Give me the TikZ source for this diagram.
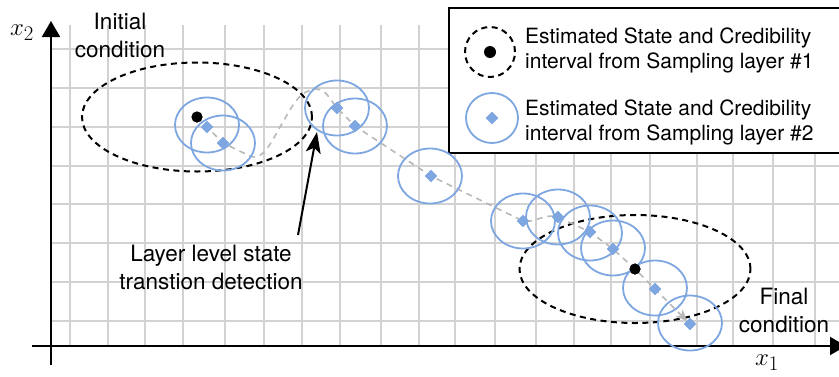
\documentclass[tikz,border=0pt]{standalone}
\usepackage{fontspec}
\setmainfont{TeX Gyre Heros}
\usetikzlibrary{shapes.geometric,arrows.meta}
\definecolor{ringblue}{HTML}{7EA6E0}
\definecolor{gridgray}{HTML}{D2D2D2}
\definecolor{pathgray}{HTML}{B8B8B8}

\begin{document}
\begin{tikzpicture}[x=1pt,y=-1pt,
  gridline/.style={gridgray,line width=1.6pt},
  axisline/.style={line width=2pt,-{Triangle[length=16pt,width=18pt]}},
  region/.style={draw=black,dash pattern=on 6pt off 4.5pt,line width=2pt},
  ring/.style={draw=ringblue,line width=1.8pt},
  statept/.style={diamond,fill=ringblue,inner sep=0pt,minimum size=12pt},
  truept/.style={circle,fill=black,inner sep=0pt,minimum size=11pt},
  trajectory/.style={pathgray,line width=1.6pt,dash pattern=on 6pt off 5pt,
    -{Stealth[length=11pt,width=10pt,inset=3pt,fill=pathgray]}},
  pointer/.style={line width=2pt,-{Stealth[length=21pt,width=15pt,inset=5pt]}},
  notetext/.style={font=\fontsize{22.5}{28}\selectfont,align=center,inner sep=0pt},
  legendtext/.style={font=\fontsize{21}{24.5}\selectfont,align=left,inner sep=0pt},
  legendbox/.style={draw=black,fill=white,line width=2pt,inner sep=0pt},
  mathlabel/.style={font=\fontsize{24.88}{28}\selectfont,inner sep=0pt}
]
\useasboundingbox (0,0) rectangle (839,376);

% background grid
\foreach \gx in {70,108,145,183,225,264,302,340,381,419,455,495,536,574,611,650,697,733,773,815}
  \draw[gridline] (\gx,25) -- (\gx,346);
\foreach \gy in {49,88,127,166,204,243,282,321}
  \draw[gridline] (51,\gy) -- (845,\gy);

% axes
\coordinate (ytop) at (51,21);
\coordinate (xend) at (846,346);
\coordinate (ybottom) at (51,365);
\coordinate (xstart) at (32,346);
\draw[axisline] (ybottom) -- (ytop);
\draw[axisline] (xstart) -- (xend);
\node[mathlabel] (xtwo) at (22,33) {$x_2$};
\node[mathlabel] (xone) at (767,363) {$x_1$};

% legend
\node[legendbox,anchor=north west,minimum width=396pt,minimum height=145pt] (legend) at (448,7) {};
\draw[region] (490,52) circle [radius=25pt];
\node[truept,minimum size=12pt] (legdot) at (490,52) {};
\node[legendtext,anchor=north west] (legone) at (525,28)
  {Estimated State and Credibility\\interval from Sampling layer \#1};
\draw[ring] (492,118) circle [x radius=26pt,y radius=25pt];
\node[statept,minimum size=13pt] (legdiamond) at (492,118) {};
\node[legendtext,anchor=north west] (legtwo) at (525,100)
  {Estimated State and Credibility\\interval from Sampling layer \#2};

% sampling layer #1 estimates
\node[truept] (p1) at (197,117) {};
\node[truept] (p2) at (635,269) {};

% sampling layer #2 estimates
\node[statept] (s1) at (207,127) {};
\node[statept] (s2) at (223,143) {};
\node[statept] (s3) at (337,108) {};
\node[statept] (s4) at (355,126) {};
\node[statept] (s5) at (431,176) {};
\node[statept] (s6) at (523,221) {};
\node[statept] (s7) at (558,217) {};
\node[statept] (s8) at (590,232) {};
\node[statept] (s9) at (613,249) {};
\node[statept] (s10) at (655,289) {};
\node[statept] (s11) at (690,324) {};

% credibility regions of layer #1
\draw[region] (p1.center) ellipse [x radius=115pt,y radius=54.5pt];
\draw[region] (p2.center) ellipse [x radius=115.5pt,y radius=54pt];

% estimated trajectory
\draw[trajectory] (p1.center) -- (s1.center) -- (s2.center) -- (250,156)
  .. controls (264,162) and (273,138) .. (283,122)
  .. controls (292,106) and (300,90) .. (316,89)
  .. controls (326,89) and (331,101) .. (s3.center)
  -- (s4.center) -- (s5.center) -- (s6.center)
  .. controls (535,223) and (545,213) .. (s7.center)
  -- (s8.center) -- (s9.center) -- (p2.center) -- (s10.center) -- (s11);

% credibility regions of layer #2
\foreach \cx/\cy in {207/125,223/143,337/108,355/126,430/176,
    523/221,558/217,590/233,613/248,655/288,690/323}
  \draw[ring] (\cx,\cy) ellipse [x radius=32pt,y radius=27.5pt];

% markers on top of the rings
\foreach \s in {s1,s2,s3,s4,s5,s6,s7,s8,s9,s10,s11}
  \fill[ringblue] (\s.north) -- (\s.east) -- (\s.south) -- (\s.west) -- cycle;
\fill (p1) circle [radius=5.5pt];
\fill (p2) circle [radius=5.5pt];

% annotations
\node[notetext,anchor=north] (initlabel) at (120,13) {Initial\\condition};
\node[notetext,anchor=north] (finallabel) at (784,288) {Final\\condition};
\node[notetext,anchor=north] (note) at (211,245) {Layer level state\\transtion detection};
\coordinate (notetail) at (298,235);
\coordinate (notetip) at (317,132);
\draw[pointer] (notetail) -- (notetip);
\end{tikzpicture}
\end{document}
